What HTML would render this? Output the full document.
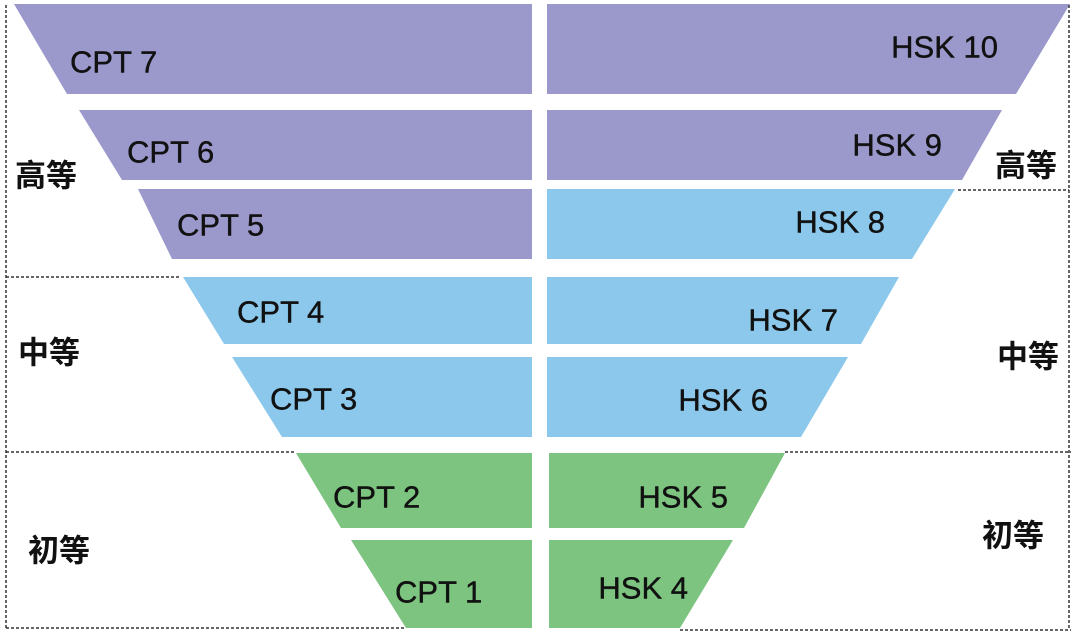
<!DOCTYPE html>
<html><head><meta charset="utf-8"><style>
html,body{margin:0;padding:0;background:#fff;width:1080px;height:635px;overflow:hidden}
svg{display:block}
text{font-family:"Liberation Sans","Noto Sans CJK SC",sans-serif;font-size:31px;fill:#111;dominant-baseline:central;stroke:#111;stroke-width:0.4}
.c{font-family:"Noto Sans CJK SC","WenQuanYi Zen Hei",sans-serif;font-size:31px;font-weight:bold;stroke:none}
</style></head><body>
<svg width="1080" height="635" viewBox="0 0 1080 635">
<g fill="#9b98cc">
<polygon points="14,4 532,4 532,94 67,94"/>
<polygon points="79,110 532,110 532,180 122,180"/>
<polygon points="138,189 532,189 532,259 172,259"/>
<polygon points="547,4 1070,4 1016,94 547,94"/>
<polygon points="547,110 1002,110 962,180 547,180"/>
</g>
<g fill="#8cc8ec">
<polygon points="183,277 532,277 532,344 224,344"/>
<polygon points="232,357 532,357 532,437 282,437"/>
<polygon points="547,189 955,189 912,259 547,259"/>
<polygon points="547,277 899,277 861,344 547,344"/>
<polygon points="547,357 848,357 801,437 547,437"/>
</g>
<g fill="#7cc47f">
<polygon points="296,453 532,453 532,528 341,528"/>
<polygon points="351,540 532,540 532,628 406,628"/>
<polygon points="549,453 785,453 744,528 549,528"/>
<polygon points="549,540 733,540 680,628 549,628"/>
</g>
<g stroke="#333" stroke-width="1.5" stroke-dasharray="3,2" fill="none">
<path d="M6,5 V628"/>
<path d="M6,277 H180"/>
<path d="M6,452 H295"/>
<path d="M6,628 H405"/>
<path d="M1069,5 V630"/>
<path d="M958,190 H1069"/>
<path d="M785,452 H1071"/>
<path d="M680,630 H1071"/>
</g>
<text x="70" y="62">CPT 7</text>
<text x="127" y="152">CPT 6</text>
<text x="177" y="225">CPT 5</text>
<text x="237" y="312">CPT 4</text>
<text x="270" y="399">CPT 3</text>
<text x="333" y="497">CPT 2</text>
<text x="395" y="592">CPT 1</text>
<g text-anchor="end">
<text x="998" y="47">HSK 10</text>
<text x="942" y="145">HSK 9</text>
<text x="885" y="222">HSK 8</text>
<text x="838" y="320">HSK 7</text>
<text x="768" y="400">HSK 6</text>
<text x="728" y="497">HSK 5</text>
<text x="688" y="588">HSK 4</text>
</g>
<text class="c" x="15" y="173">高等</text>
<text class="c" x="18" y="350">中等</text>
<text class="c" x="28" y="548">初等</text>
<text class="c" x="995" y="163">高等</text>
<text class="c" x="997" y="354">中等</text>
<text class="c" x="982" y="533">初等</text>
</svg>
</body></html>
